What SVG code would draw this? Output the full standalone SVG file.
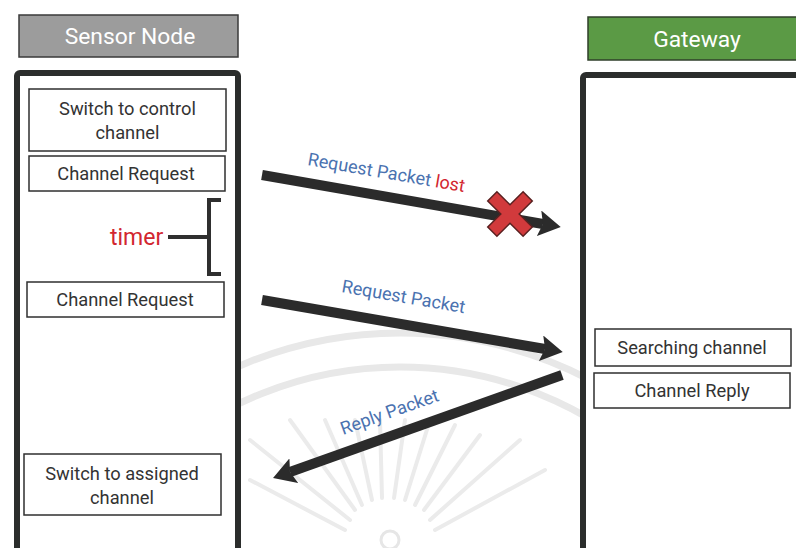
<svg xmlns="http://www.w3.org/2000/svg" width="796" height="548" viewBox="0 0 796 548">
  <defs>
    <style>
      .hdr { font-family: Roboto, "Liberation Sans", sans-serif; font-size: 22.8px; fill: #ffffff; text-anchor: middle; }
      .box { fill: #ffffff; stroke: #2f2f2f; stroke-width: 1.5; }
      .lbl { font-family: Roboto, "Liberation Sans", sans-serif; font-size: 18.3px; fill: #333333; text-anchor: middle; }
      .panel { fill: #ffffff; stroke: #2b2d2c; stroke-width: 6; }
      .msg { font-family: Roboto, "Liberation Sans", sans-serif; font-size: 18px; fill: #4a72b0; }
      .red { fill: #d2262f; }
      .arrow { stroke: #2b2b2b; stroke-width: 10; fill: none; }
      .wm { stroke: #e8e8e8; fill: none; stroke-width: 7; }
      .ray { stroke: #ebebeb; stroke-width: 4; stroke-linecap: round; }
    </style>
    <marker id="head" markerUnits="userSpaceOnUse" markerWidth="24" markerHeight="26" refX="4" refY="13" orient="auto">
      <path d="M0,0 L22,13 L0,26 L4,13 Z" fill="#2b2b2b"/>
    </marker>
  </defs>

  <rect width="796" height="548" fill="#ffffff"/>

  <!-- faint background emblem -->
  <g id="emblem">
    <circle class="wm" cx="400" cy="740" r="407"/>
    <circle class="wm" cx="400" cy="740" r="373"/>
    <g class="ray">
      <line x1="350" y1="520" x2="250" y2="440"/>
      <line x1="355" y1="510" x2="290" y2="420"/>
      <line x1="362" y1="505" x2="325" y2="420"/>
      <line x1="372" y1="500" x2="355" y2="420"/>
      <line x1="382" y1="498" x2="380" y2="420"/>
      <line x1="394" y1="498" x2="405" y2="420"/>
      <line x1="405" y1="500" x2="430" y2="420"/>
      <line x1="415" y1="505" x2="455" y2="425"/>
      <line x1="424" y1="510" x2="480" y2="435"/>
      <line x1="430" y1="520" x2="520" y2="440"/>
      <line x1="435" y1="530" x2="545" y2="470"/>
      <line x1="345" y1="530" x2="250" y2="480"/>
    </g>
    <circle cx="390" cy="540" r="9" fill="none" stroke="#e6e6e6" stroke-width="3"/>
  </g>

  <!-- Sensor Node column -->
  <g id="sensor-header">
    <rect x="19" y="15" width="219" height="42" fill="#9c9c9c" stroke="#3a3a3a" stroke-width="1.5"/>
    <text class="hdr" x="130" y="44">Sensor Node</text>
  </g>
  <g id="sensor-panel">
    <rect class="panel" x="17" y="73" width="221" height="490" rx="3"/>
  </g>
  <g id="switch-control">
    <rect class="box" x="29" y="89" width="197" height="62"/>
    <text class="lbl" x="127.5" y="115">Switch to control</text>
    <text class="lbl" x="127.5" y="139">channel</text>
  </g>
  <g id="channel-request-1">
    <rect class="box" x="29" y="156" width="196" height="35"/>
    <text class="lbl" x="126" y="180">Channel Request</text>
  </g>
  <g id="timer">
    <path d="M221,200 H209 V274 H221" fill="none" stroke="#2f2f2f" stroke-width="4"/>
    <line x1="168" y1="237" x2="209" y2="237" stroke="#2f2f2f" stroke-width="4"/>
    <text x="110" y="244.5" font-family="Roboto, 'Liberation Sans', sans-serif" font-size="23" class="red">timer</text>
  </g>
  <g id="channel-request-2">
    <rect class="box" x="27" y="282" width="197" height="35"/>
    <text class="lbl" x="125" y="306">Channel Request</text>
  </g>
  <g id="switch-assigned">
    <rect class="box" x="24" y="454" width="197" height="61"/>
    <text class="lbl" x="122" y="479.5">Switch to assigned</text>
    <text class="lbl" x="122" y="503.5">channel</text>
  </g>

  <!-- Gateway column -->
  <g id="gateway-header">
    <rect x="588" y="17" width="212" height="43" fill="#5b9a45" stroke="#2f3f2a" stroke-width="1.5"/>
    <text class="hdr" x="697" y="47">Gateway</text>
  </g>
  <g id="gateway-panel">
    <rect class="panel" x="583" y="75" width="230" height="488" rx="3"/>
  </g>
  <g id="searching-channel">
    <rect class="box" x="595" y="329" width="196" height="37"/>
    <text class="lbl" x="692" y="354">Searching channel</text>
  </g>
  <g id="channel-reply">
    <rect class="box" x="594" y="373" width="196" height="35"/>
    <text class="lbl" x="692" y="397">Channel Reply</text>
  </g>

  <!-- message arrows -->
  <g id="connectors">
    <line class="arrow" x1="262" y1="175" x2="543" y2="224" marker-end="url(#head)"/>
    <line class="arrow" x1="262" y1="300" x2="545" y2="349" marker-end="url(#head)"/>
    <line class="arrow" x1="562" y1="375" x2="290" y2="472" marker-end="url(#head)"/>

    <!-- lost-packet cross -->
    <g transform="translate(510,214) rotate(45)">
      <path d="M-6.5,-25 H6.5 V-6.5 H25 V6.5 H6.5 V25 H-6.5 V6.5 H-25 V-6.5 H-6.5 Z" fill="#d13a3c" stroke="#5a2020" stroke-width="1.5"/>
    </g>

    <text class="msg" transform="translate(307,165) rotate(9.8)">Request Packet <tspan class="red">lost</tspan></text>
    <text class="msg" transform="translate(341,292) rotate(9.8)">Request Packet</text>
    <text class="msg" transform="translate(343,435) rotate(-19.6)">Reply Packet</text>
  </g>
</svg>
